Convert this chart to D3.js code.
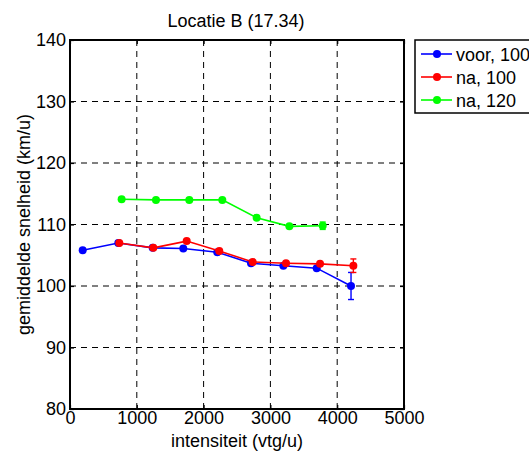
<!DOCTYPE html>
<html><head><meta charset="utf-8">
<script src="https://cdn.jsdelivr.net/npm/d3@7"></script>
<style>body{margin:0;background:#fff}svg{display:block;font-family:"Liberation Sans",Arial,sans-serif}</style>
</head><body>
<svg id="c" width="529" height="453"></svg>
<script>
const title = "Locatie B (17.34)";
const xLabel = "intensiteit (vtg/u)";
const yLabel = "gemiddelde snelheid (km/u)";
const xTicks = [0, 1000, 2000, 3000, 4000, 5000];
const yTicks = [80, 90, 100, 110, 120, 130, 140];
const seriesNames = ["voor, 100", "na, 100", "na, 120"];
const seriesColors = ["#0000ff", "#ff0000", "#00ff00"];
const voorX = [190, 723, 1238, 1696, 2205, 2710, 3194, 3693, 4207];
const voorY = [105.8, 107.0, 106.2, 106.1, 105.5, 103.7, 103.3, 102.9, 100.0];
const voorErr = [0, 0, 0, 0, 0, 0, 0, 0, 2.2];
const na100X = [738, 1247, 1747, 2235, 2735, 3234, 3743, 4242];
const na100Y = [107.0, 106.2, 107.3, 105.7, 103.9, 103.7, 103.6, 103.3];
const na100Err = [0, 0, 0, 0, 0, 0, 0, 1.1];
const na120X = [773, 1287, 1786, 2280, 2794, 3284, 3783];
const na120Y = [114.1, 114.0, 114.0, 114.0, 111.1, 109.7, 109.8];
const na120Err = [0, 0, 0, 0, 0, 0, 0.6];

const series = [
  {name: seriesNames[0], color: seriesColors[0], x: voorX, y: voorY, e: voorErr},
  {name: seriesNames[1], color: seriesColors[1], x: na100X, y: na100Y, e: na100Err},
  {name: seriesNames[2], color: seriesColors[2], x: na120X, y: na120Y, e: na120Err}
];

const L = 70, R = 404, T = 40, B = 409;
const svg = d3.select("#c");
const x = d3.scaleLinear().domain([0, 5000]).range([L, R]);
const y = d3.scaleLinear().domain([80, 140]).range([B, T]);

// grid
const g = svg.append("g");
g.selectAll(".gx").data(xTicks.slice(1, -1)).enter().append("line")
  .attr("x1", d => x(d)).attr("x2", d => x(d)).attr("y1", T).attr("y2", B)
  .attr("stroke", "#000").attr("stroke-width", 1).attr("stroke-dasharray", "6,5");
g.selectAll(".gy").data(yTicks.slice(1, -1)).enter().append("line")
  .attr("y1", d => y(d)).attr("y2", d => y(d)).attr("x1", L).attr("x2", R)
  .attr("stroke", "#000").attr("stroke-width", 1).attr("stroke-dasharray", "6,5");

// axes
const fs = "18px";
const ax = svg.append("g").attr("transform", `translate(0,${B})`)
  .call(d3.axisBottom(x).tickValues(xTicks).tickFormat(d3.format("d")).tickSize(-4).tickPadding(5));
const axT = svg.append("g").attr("transform", `translate(0,${T})`)
  .call(d3.axisTop(x).tickValues(xTicks).tickFormat("").tickSize(-4));
const ay = svg.append("g").attr("transform", `translate(${L},0)`)
  .call(d3.axisLeft(y).tickValues(yTicks).tickFormat(d3.format("d")).tickSize(-4).tickPadding(4));
const ayR = svg.append("g").attr("transform", `translate(${R},0)`)
  .call(d3.axisRight(y).tickValues(yTicks).tickFormat("").tickSize(-4));
[ax, axT, ay, ayR].forEach(a => {
  a.select(".domain").remove();
  a.selectAll("line").attr("stroke", "#000").attr("stroke-width", 1.2);
  a.selectAll("text").attr("font-size", fs).attr("fill", "#000")
    .attr("font-family", "Liberation Sans, Arial, sans-serif");
});
ax.selectAll("text").attr("dy", "0.55em");
svg.append("rect").attr("x", L).attr("y", T).attr("width", R - L).attr("height", B - T)
  .attr("fill", "none").attr("stroke", "#000").attr("stroke-width", 2);

// series
const line = d3.line().x(d => x(d[0])).y(d => y(d[1]));
series.forEach(s => {
  const pts = s.x.map((v, i) => [v, s.y[i], s.e[i]]);
  const sg = svg.append("g");
  sg.append("path").datum(pts).attr("d", line).attr("fill", "none")
    .attr("stroke", s.color).attr("stroke-width", 1.6);
  const eb = pts.filter(p => p[2] > 0);
  eb.forEach(p => {
    sg.append("line").attr("x1", x(p[0])).attr("x2", x(p[0]))
      .attr("y1", y(p[1] - p[2])).attr("y2", y(p[1] + p[2]))
      .attr("stroke", s.color).attr("stroke-width", 1.4);
    [p[1] - p[2], p[1] + p[2]].forEach(v => {
      sg.append("line").attr("x1", x(p[0]) - 3).attr("x2", x(p[0]) + 3)
        .attr("y1", y(v)).attr("y2", y(v)).attr("stroke", s.color).attr("stroke-width", 1.4);
    });
  });
  sg.selectAll("circle").data(pts).enter().append("circle")
    .attr("cx", d => x(d[0])).attr("cy", d => y(d[1])).attr("r", 4)
    .attr("fill", s.color);
});

// title and labels
svg.append("text").attr("x", 236).attr("y", 27).attr("text-anchor", "middle")
  .attr("font-size", fs).text(title);
svg.append("text").attr("x", (L + R) / 2).attr("y", 447).attr("text-anchor", "middle")
  .attr("font-size", fs).text(xLabel);
svg.append("text").attr("transform", `translate(30,${(T + B) / 2}) rotate(-90)`)
  .attr("text-anchor", "middle").attr("font-size", fs).text(yLabel);

// legend
const lg = svg.append("g");
lg.append("rect").attr("x", 415).attr("y", 40).attr("width", 140).attr("height", 73)
  .attr("fill", "#fff").attr("stroke", "#000").attr("stroke-width", 1.5);
series.forEach((s, i) => {
  const yy = 54 + i * 23;
  lg.append("line").attr("x1", 421).attr("x2", 452).attr("y1", yy).attr("y2", yy)
    .attr("stroke", s.color).attr("stroke-width", 1.6);
  lg.append("circle").attr("cx", 437).attr("cy", yy).attr("r", 4).attr("fill", s.color);
  lg.append("text").attr("x", 456).attr("y", yy + 6.5).attr("font-size", fs).text(s.name);
});
</script>
</body></html>
